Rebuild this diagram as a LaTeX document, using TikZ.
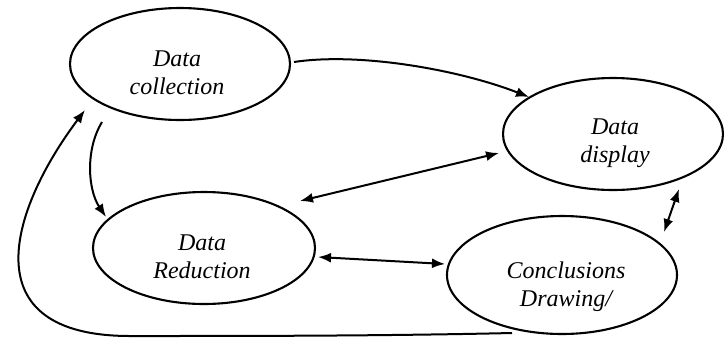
\documentclass[tikz,border=0pt]{standalone}
\usepackage{fontspec}
\setmainfont{Liberation Serif}
\usetikzlibrary{shapes.geometric,arrows.meta,calc}
\begin{document}
\begin{tikzpicture}[x=1pt,y=-1pt,
  oval/.style={draw,ellipse,line width=2.1pt,inner sep=0pt},
  lbl/.style={align=center,font=\fontsize{24}{28}\selectfont\itshape,inner sep=0pt},
  arr/.style={line width=2pt,-{Latex[length=13pt,width=10pt]}},
  darr/.style={line width=2pt,{Latex[length=13pt,width=10pt]}-{Latex[length=13pt,width=10pt]}}]
\useasboundingbox (0,0) rectangle (725,338);
\node[oval,minimum width=220pt,minimum height=112pt] (A) at (180,64) {};
\node[oval,minimum width=220pt,minimum height=112pt] (B) at (613,134) {};
\node[oval,minimum width=222pt,minimum height=112pt] (C) at (204,248) {};
\node[oval,minimum width=230pt,minimum height=118pt] (D) at (562,275) {};
\node[lbl] (tA) at (177,73) {Data\\collection};
\node[lbl] (tB) at (615,143) {Data\\display};
\node[lbl] (tC) at (202,257) {Data\\Reduction};
\node[lbl] (tD) at (566,287) {Conclusions\\Drawing/};
% A -> B
\draw[arr] ($(A.center)+(114,-2)$) .. controls (360,52) and (460,70) .. ($(B.center)+(-84,-37)$);
% A -> C
\draw[arr] ($(A.center)+(-78,58)$) .. controls (85,150) and (88,190) .. ($(C.center)+(-98,-31)$);
% C <-> B
\draw[darr] ($(C.center)+(96,-47)$) -- ($(B.center)+(-114,19)$);
% C <-> D
\draw[darr] ($(C.center)+(114,9)$) -- ($(D.center)+(-117,-11)$);
% B <-> D
\draw[darr] ($(B.center)+(66,55)$) -- ($(D.center)+(102,-43)$);
% D -> A (long return)
\draw[arr] ($(D.center)+(-50,58)$) .. controls (380,336) and (250,336) .. (130,336)
  .. controls (-30,336) and (10,210) .. ($(A.center)+(-95,46)$);
\end{tikzpicture}
\end{document}
